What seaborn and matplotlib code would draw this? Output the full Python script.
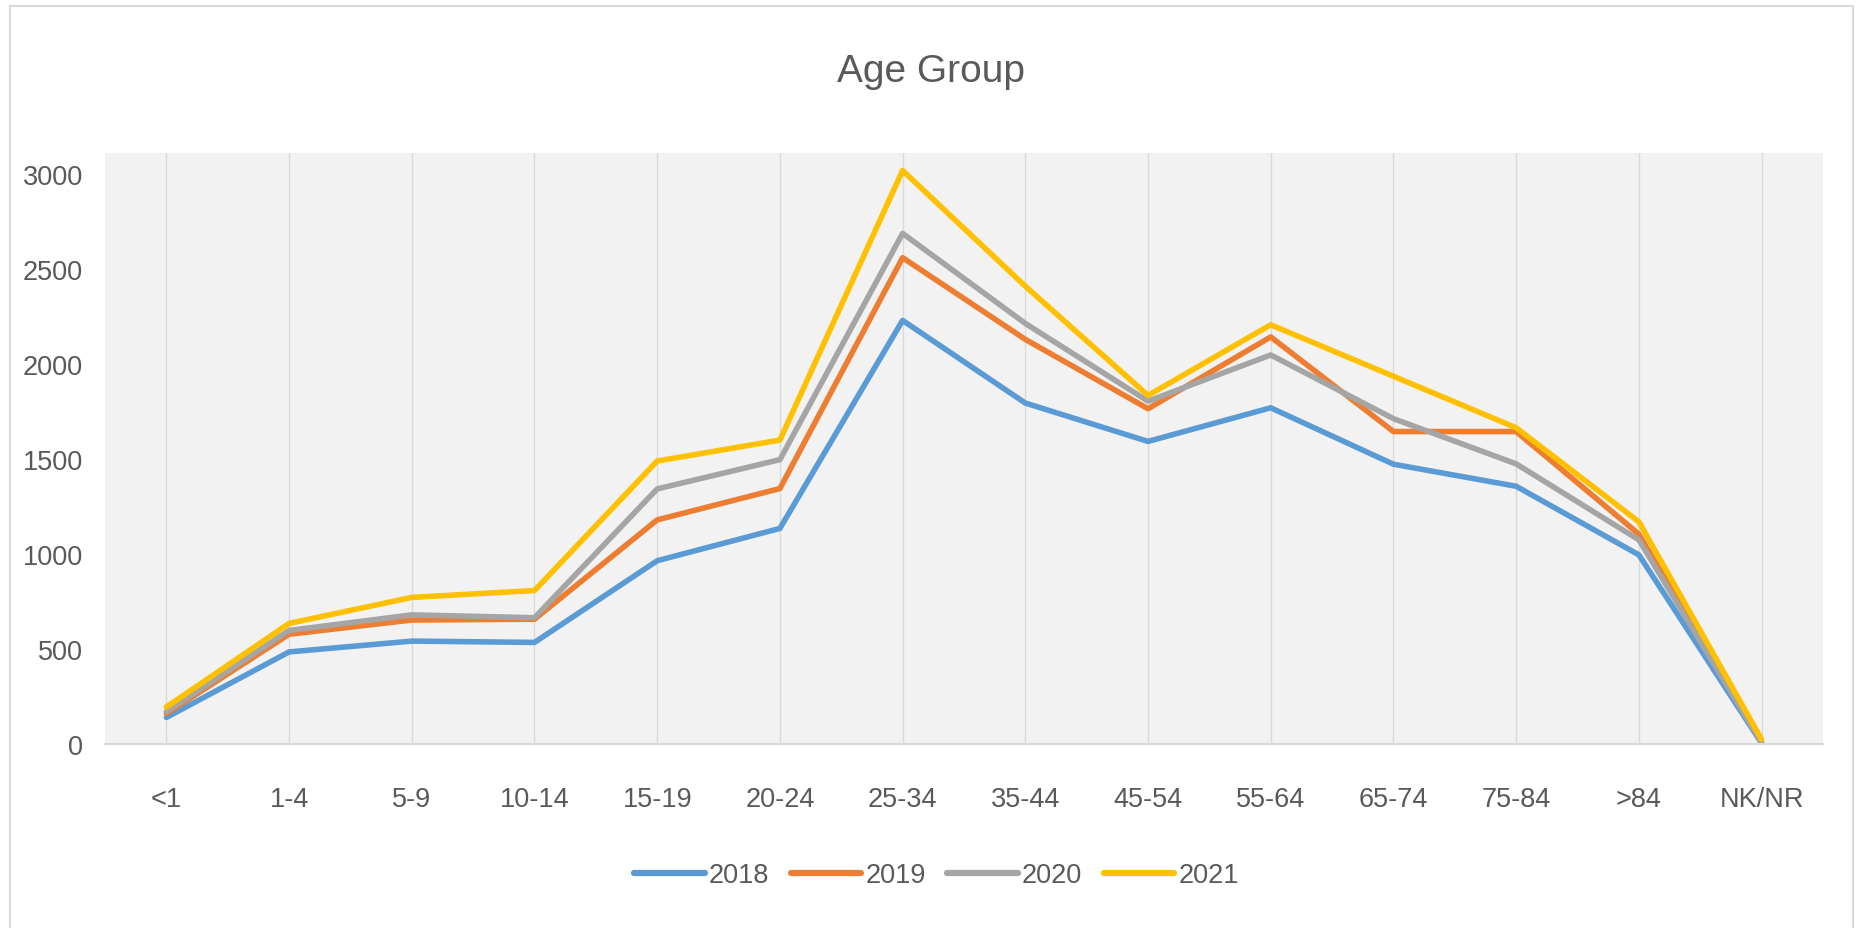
import matplotlib
matplotlib.use("Agg")
import matplotlib.pyplot as plt
import seaborn as sns
import pandas as pd
from matplotlib.patches import Rectangle

# data
age_groups = ["<1", "1-4", "5-9", "10-14", "15-19", "20-24", "25-34",
              "35-44", "45-54", "55-64", "65-74", "75-84", ">84", "NK/NR"]
years = ["2018", "2019", "2020", "2021"]
v2018 = [140, 485, 542, 535, 965, 1135, 2230, 1795, 1593, 1770, 1473, 1357, 996, 5]
v2019 = [160, 578, 653, 657, 1180, 1345, 2560, 2130, 1765, 2143, 1645, 1645, 1105, 10]
v2020 = [170, 598, 680, 665, 1343, 1497, 2688, 2214, 1805, 2048, 1713, 1475, 1075, 8]
v2021 = [195, 635, 772, 808, 1490, 1600, 3019, 2410, 1835, 2207, 1936, 1665, 1170, 25]
colors = ["#5B9BD5", "#ED7D31", "#A5A5A5", "#FFC000"]

df = pd.DataFrame({
    "age": age_groups * 4,
    "year": [y for y in years for _ in age_groups],
    "count": v2018 + v2019 + v2020 + v2021,
})

sns.set_theme(style="white")
plt.rcParams["font.family"] = ["Liberation Sans Narrow", "Liberation Sans", "DejaVu Sans"]
text_color = "#595959"

fig = plt.figure(figsize=(18.62, 9.29), dpi=100)
ax = fig.add_axes([0.0564, 0.198, 0.9226, 0.636])
ax.set_facecolor("#F2F2F2")

sns.lineplot(data=df, x="age", y="count", hue="year", palette=colors,
             sort=False, linewidth=4, ax=ax, legend=False)

ax.set_xlim(-0.5, len(age_groups) - 0.5)
ax.set_ylim(0, 3110)
ax.set_yticks(range(0, 3001, 500))
ax.set_xlabel("")
ax.set_ylabel("")
ax.grid(False)
for i in range(len(age_groups)):
    ax.axvline(i, color="#D9D9D9", linewidth=1, zorder=0)
for s in ["top", "right", "left"]:
    ax.spines[s].set_visible(False)
ax.spines["bottom"].set_color("#D9D9D9")
ax.spines["bottom"].set_linewidth(1.5)
ax.tick_params(axis="both", length=0, labelsize=19.5, colors=text_color)
ax.tick_params(axis="x", pad=30)
ax.tick_params(axis="y", pad=16)

fig.text(0.5, 0.922, "Age Group", ha="center", va="center",
         fontsize=28, color=text_color)

handles = [plt.Line2D([], [], color=c, linewidth=4.5) for c in colors]
fig.legend(handles, years, loc="center", bbox_to_anchor=(0.503, 0.057),
           ncol=4, frameon=False, fontsize=19.5, handlelength=2.6,
           handletextpad=0.15, columnspacing=0.8, labelcolor=text_color)

# chart border
fig.patches.append(Rectangle((0.0054, -0.01), 0.99, 1.003, transform=fig.transFigure,
                             fill=False, edgecolor="#D9D9D9", linewidth=1.5))

fig.savefig("out.png", dpi=100, facecolor="white")
